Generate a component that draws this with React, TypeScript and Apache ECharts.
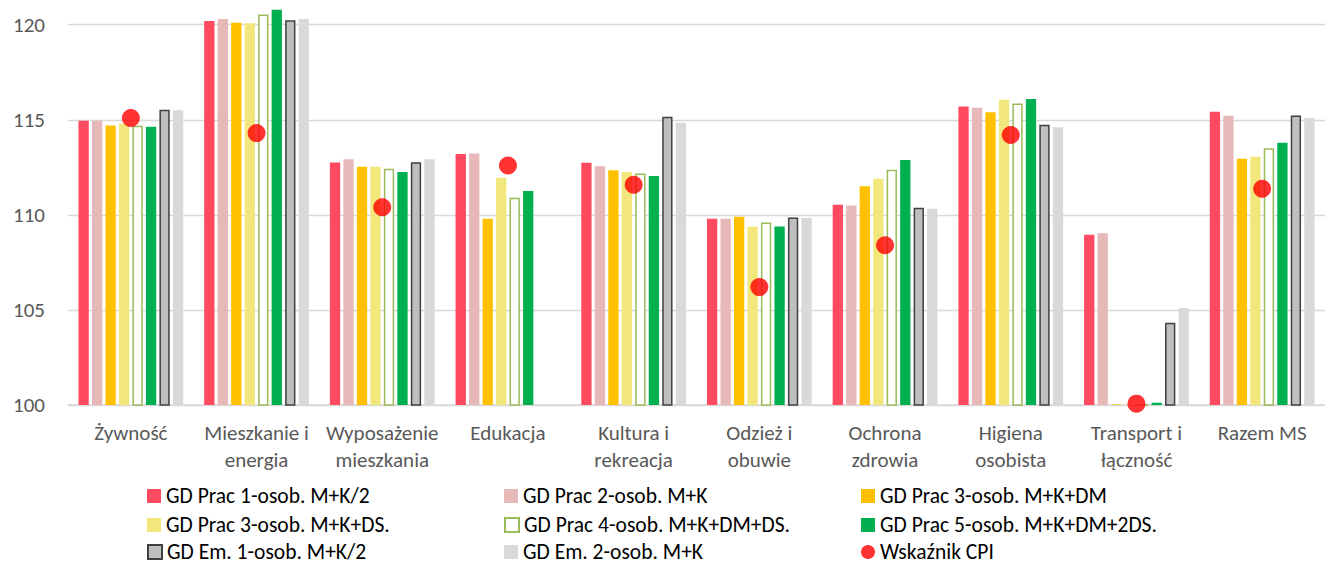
import React, { useEffect, useRef } from "react";
import * as echarts from "echarts";

const categories = [
  "Żywność",
  "Mieszkanie i\nenergia",
  "Wyposażenie\nmieszkania",
  "Edukacja",
  "Kultura i\nrekreacja",
  "Odzież i\nobuwie",
  "Ochrona\nzdrowia",
  "Higiena\nosobista",
  "Transport i\nłączność",
  "Razem MS",
];

const seriesNames = [
  "GD Prac 1-osob. M+K/2",
  "GD Prac 2-osob. M+K",
  "GD Prac 3-osob. M+K+DM",
  "GD Prac 3-osob. M+K+DS.",
  "GD Prac 4-osob. M+K+DM+DS.",
  "GD Prac 5-osob. M+K+DM+2DS.",
  "GD Em. 1-osob. M+K/2",
  "GD Em. 2-osob. M+K",
];
const cpiName = "Wskaźnik CPI";

const prac1 = [114.95, 120.2, 112.75, 113.2, 112.74, 109.79, 110.53, 115.7, 108.95, 115.42];
const prac2 = [114.95, 120.3, 112.93, 113.23, 112.56, 109.79, 110.49, 115.63, 109.03, 115.21];
const prac3dm = [114.7, 120.1, 112.53, 109.8, 112.35, 109.9, 111.5, 115.4, 100.03, 112.95];
const prac3ds = [114.8, 120.08, 112.53, 111.95, 112.26, 109.37, 111.9, 116.05, 100.03, 113.05];
const prac4 = [114.68, 120.54, 112.42, 110.9, 112.17, 109.6, 112.37, 115.86, 100.05, 113.5];
const prac5 = [114.63, 120.79, 112.25, 111.26, 112.05, 109.39, 112.88, 116.09, 100.12, 113.79];
const em1 = [115.53, 120.23, 112.77, null, 115.16, 109.86, 110.37, 114.74, 104.32, 115.23];
const em2 = [115.5, 120.3, 112.93, null, 114.84, 109.84, 110.32, 114.61, 105.1, 115.09];
const cpi = [115.09, 114.3, 110.4, 112.6, 111.58, 106.2, 108.4, 114.2, 100.07, 111.37];

const yAxisRange = { min: 100, max: 121.3, interval: 5 };

const FONT = "Carlito, Lato, sans-serif";

export default function App() {
  const ref = useRef<HTMLDivElement>(null);
  useEffect(() => {
    if (!ref.current) return;
    const chart = echarts.init(ref.current, null, { renderer: "svg" });
    const barData = [prac1, prac2, prac3dm, prac3ds, prac4, prac5, em1, em2];
    const styles: any[] = [
      { color: "#FF4A60" },
      { color: "#E6B8B7" },
      { color: "#FFC000" },
      { color: "#F2E77B" },
      { color: "#FFFFFF", borderColor: "#9BBB59", borderWidth: 1.5 },
      { color: "#00B050" },
      { color: "#BFBFBF", borderColor: "#404040", borderWidth: 1.5 },
      { color: "#D9D9D9" },
    ];
    const bars = barData.map((d, i) => ({
      name: seriesNames[i],
      type: "bar",
      data: d,
      barWidth: 10.3,
      barGap: "31%",
      itemStyle: styles[i],
      emphasis: { disabled: true },
    }));
    const allNames = [...seriesNames, cpiName];
    const colX = [147, 504, 861];
    const rowY = [485, 514, 541];
    const legends = allNames.map((n, i) => ({
      data: [{ name: n, icon: i === 8 ? "circle" : "rect" }],
      left: colX[i % 3],
      top: rowY[Math.floor(i / 3)],
      padding: 0,
      itemWidth: 14,
      itemHeight: 14,
      selectedMode: false,
      textStyle: { fontSize: 21.5, lineHeight: 20, color: "#000000", fontFamily: FONT },
    }));
    chart.setOption({
      animation: false,
      grid: { left: 68, top: 0, width: 1270, height: 405 },
      legend: legends,
      xAxis: {
        type: "category",
        data: categories,
        axisTick: { show: false },
        axisLine: { lineStyle: { color: "#D9D9D9", width: 1.5 } },
        axisLabel: {
          interval: 0,
          fontSize: 21,
          color: "#595959",
          fontFamily: FONT,
          lineHeight: 27,
          margin: 14,
        },
      },
      yAxis: {
        type: "value",
        min: yAxisRange.min,
        max: yAxisRange.max,
        interval: yAxisRange.interval,
        axisLine: { show: false },
        axisTick: { show: false },
        splitLine: { showMaxLine: false, lineStyle: { color: "#D9D9D9", width: 1.3 } },
        axisLabel: { showMaxLabel: false, fontSize: 21, color: "#595959", fontFamily: FONT, margin: 23 },
      },
      series: [
        ...bars,
        {
          name: cpiName,
          type: "scatter",
          data: cpi,
          symbol: "circle",
          symbolSize: 18,
          itemStyle: { color: "#FF0000" },
          z: 5,
          clip: false,
          emphasis: { disabled: true },
        },
      ],
    });
    return () => chart.dispose();
  }, []);
  return (
    <div
      ref={ref}
      style={{ position: "absolute", left: 0, top: 0, width: 1325, height: 567 }}
    />
  );
}
